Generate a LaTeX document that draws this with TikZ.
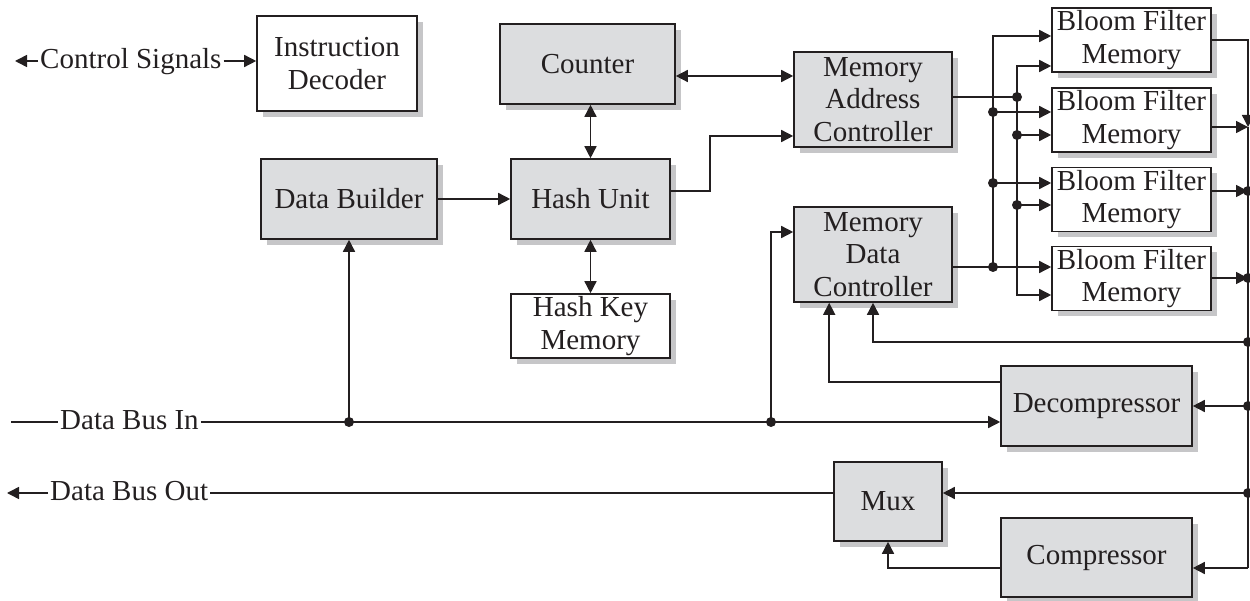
\documentclass[tikz,border=0pt]{standalone}
\usepackage{fontspec}
\setmainfont{Liberation Serif}
\usetikzlibrary{arrows.meta,shadows}

\definecolor{ink}{RGB}{35,31,32}
\definecolor{boxgray}{RGB}{220,221,223}
\definecolor{shadegray}{RGB}{198,198,200}

\tikzset{
  blk/.style={draw=ink, line width=1.6pt, inner sep=0pt, align=center,
    font=\fontsize{29}{32.5}\selectfont, text=ink,
    drop shadow={shadow xshift=6pt, shadow yshift=-6pt, fill=shadegray, opacity=1, draw=none}},
  grayblk/.style={blk, fill=boxgray},
  whiteblk/.style={blk, fill=white},
  lbl/.style={inner xsep=2pt, inner ysep=0pt, text height=15pt, text depth=0pt,
    font=\fontsize{29}{32}\selectfont, text=ink},
  wire/.style={draw=ink, line width=1.5pt},
  tip/.tip={Triangle[length=12pt,width=12pt]},
  arr/.style={wire, -tip},
  biarr/.style={wire, tip-tip},
  joint/.style={fill=ink}
}

\begin{document}
\begin{tikzpicture}[x=1pt, y=-1pt]
\useasboundingbox (0,0) rectangle (1250,601);

% blocks
\node[whiteblk, minimum width=160pt, minimum height=95pt] (dec) at (337,63.5) {Instruction\\Decoder};
\node[grayblk, minimum width=175pt, minimum height=80pt] (counter) at (587.5,64) {Counter};
\node[grayblk, minimum width=176pt, minimum height=80pt] (builder) at (349,199) {Data Builder};
\node[grayblk, minimum width=159pt, minimum height=80pt] (hash) at (590.5,199) {Hash Unit};
\node[whiteblk, minimum width=159pt, minimum height=64pt] (hkm) at (590.5,326) {Hash Key\\Memory};
\node[grayblk, minimum width=158pt, minimum height=95pt] (mac) at (873,99.5) {Memory\\Address\\Controller};
\node[grayblk, minimum width=158pt, minimum height=95pt] (mdc) at (873,254.5) {Memory\\Data\\Controller};
\node[whiteblk, minimum width=159pt, minimum height=64pt] (bf1) at (1131.5,40) {Bloom Filter\\Memory};
\node[whiteblk, minimum width=159pt, minimum height=64pt] (bf2) at (1131.5,120) {Bloom Filter\\Memory};
\node[whiteblk, minimum width=159pt, minimum height=64pt] (bf3) at (1131.5,199.5) {Bloom Filter\\Memory};
\node[whiteblk, minimum width=159pt, minimum height=64pt] (bf4) at (1131.5,278.5) {Bloom Filter\\Memory};
\node[grayblk, minimum width=191pt, minimum height=80pt] (decomp) at (1096.5,406) {Decompressor};
\node[grayblk, minimum width=108pt, minimum height=79pt] (mux) at (888,501.5) {Mux};
\node[grayblk, minimum width=191pt, minimum height=79pt] (comp) at (1096.5,557.5) {Compressor};

% external signal labels
\node[lbl, anchor=west] (cs) at (38,61) {Control Signals};
\node[lbl, anchor=west] (din) at (58,422) {Data Bus In};
\node[lbl, anchor=west] (dout) at (48,493) {Data Bus Out};
\coordinate (csL) at (15,61);
\coordinate (dinL) at (11,422);
\coordinate (doutL) at (7,493);

% junction points
\coordinate (jb) at (349,422);
\coordinate (jm) at (771,422);
\coordinate (a1) at (993,36);
\coordinate (a2) at (993,112);
\coordinate (a3) at (993,183);
\coordinate (a4) at (993,267);
\coordinate (b1) at (1017,66);
\coordinate (b0) at (1017,97);
\coordinate (b2) at (1017,135);
\coordinate (b3) at (1017,205);
\coordinate (b4) at (1017,295);
\coordinate (r1) at (1248,127);
\coordinate (r2) at (1248,191);
\coordinate (r3) at (1248,278);
\coordinate (r4) at (1248,342);
\coordinate (r5) at (1248,406);
\coordinate (r6) at (1248,493);
\coordinate (r7) at (1248,568);

% control and data buses
\draw[arr] (cs.west) -- (csL);
\draw[arr] (cs.east) -- (dec.west |- cs.east);
\draw[wire] (dinL) -- (din.west);
\draw[arr] (din.east) -- (decomp.west |- din.east);
\draw[arr] (jb) -- (builder.south);
\draw[arr] (jm) |- ([yshift=22.5pt]mdc.west);
\draw[arr] (dout.west) -- (doutL);
\draw[wire] (mux.west |- r6) -- (dout.east);

% hashing path
\draw[arr] (builder.east) -- (hash.west);
\draw[biarr] (hash.north) -- (hash.north |- counter.south);
\draw[biarr] (hash.south) -- (hkm.north);
\draw[biarr] ([yshift=-12pt]counter.east) -- ([yshift=23.5pt]mac.west);
\draw[arr] ([yshift=8pt]hash.east) -- ++(39,0) |- ([yshift=-36.5pt]mac.west);

% address and data distribution to the bloom filter memories
\draw[wire] ([yshift=2.5pt]mac.east) -- (b0);
\draw[arr] ([yshift=-12.5pt]mdc.east) -- (bf4.west |- a4);
\draw[wire] (a2) -- (a4);
\draw[arr] (a2) |- (bf1.west |- a1);
\draw[arr] (a2) -- (bf2.west |- a2);
\draw[arr] (a3) -- (bf3.west |- a3);
\draw[arr] (b2) |- (bf1.west |- b1);
\draw[arr] (b2) -- (bf2.west |- b2);
\draw[arr] (b3) -- (bf3.west |- b3);
\draw[arr] (b2) |- (bf4.west |- b4);

% result bus on the right
\draw[arr] (bf1.east) -| (r1);
\draw[arr] (bf2.east |- r1) -- (r1);
\draw[arr] (bf3.east |- r2) -- (r2);
\draw[arr] (bf4.east |- r3) -- (r3);
\draw[wire] (r1) -- (r7);
\draw[arr] (r4) -| (mdc.south);
\draw[arr] (r5) -- (decomp.east);
\draw[arr] (r6) -- (mux.east |- r6);
\draw[arr] (r7) -- (comp.east |- r7);
\draw[arr] ([yshift=24pt]decomp.west) -| ([xshift=36pt]mdc.south west);
\draw[arr] (comp.west |- r7) -| (mux.south);

% junction dots
\foreach \p in {jb,jm,a2,a3,a4,b0,b2,b3,r2,r3,r4,r5,r6}
  \fill[joint] (\p) circle (5pt);
\end{tikzpicture}
\end{document}
